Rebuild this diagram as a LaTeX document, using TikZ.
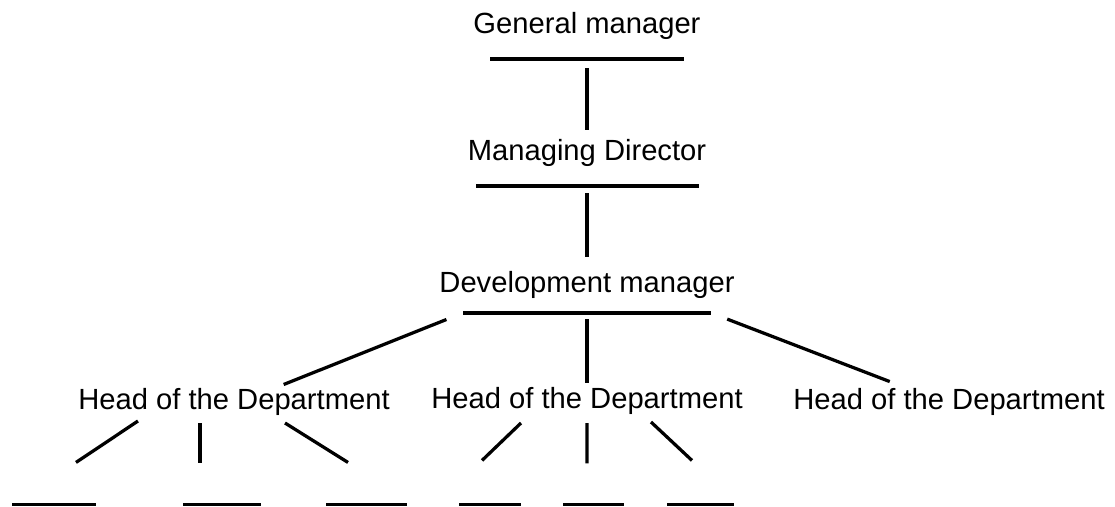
\documentclass[tikz,border=0pt]{standalone}
\usepackage{fontspec}
\setmainfont{Liberation Sans}
\usepackage{tikz}

\tikzset{
  title/.style={font=\fontsize{16.6}{19}\selectfont, inner sep=0pt, anchor=base},
  bar/.style={fill=black, draw=none, inner sep=0pt, minimum height=0.064cm},
  link/.style={line width=1.85pt}
}

\begin{document}
\begin{tikzpicture}
		%%%%% START %%%%%
		\useasboundingbox (0, 0) rectangle (22.3, 10.12);
		
		% management chain
		\node[title] (gm) at (11.74, 9.46) {General manager};
		\node[bar, minimum width=3.88cm] (gmb) at (11.74, 8.94) {};
		\node[title] (md) at (11.74, 6.92) {Managing Director};
		\node[bar, minimum width=4.46cm] (mdb) at (11.74, 6.40) {};
		\node[title] (dm) at (11.74, 4.28) {Development manager};
		\node[bar, minimum width=4.96cm] (dmb) at (11.74, 3.86) {};
		
		% heads of department
		\node[title] (lh) at (4.68, 1.94) {Head of the Department};
		\node[title] (mh) at (11.74, 1.95) {Head of the Department};
		\node[title] (rh) at (18.98, 1.94) {Head of the Department};
		
		% empty places at the bottom
		\node[bar, minimum width=1.68cm] (l1) at (1.08, 0.036) {};
		\node[bar, minimum width=1.56cm] (l2) at (4.44, 0.036) {};
		\node[bar, minimum width=1.62cm] (l3) at (7.33, 0.036) {};
		\node[bar, minimum width=1.24cm] (l4) at (9.80, 0.036) {};
		\node[bar, minimum width=1.22cm] (l5) at (11.87, 0.036) {};
		\node[bar, minimum width=1.34cm] (l6) at (14.01, 0.036) {};
		
		\draw[link, shorten <=0.15cm, shorten >=0.6cm] (gmb.south) -- (md.base);
		\draw[link, shorten <=0.11cm, shorten >=0.7cm] (mdb.south) -- (dm.base);
		
		\draw[link, shorten <=0.35cm, shorten >=1.07cm] (dmb.west) -- (lh.mid);
		\draw[link, shorten <=0.09cm, shorten >=0.51cm] (dmb.south) -- (mh.base);
		\draw[link, shorten <=0.34cm, shorten >=1.27cm] (dmb.east) -- (rh.mid);
		
		\draw[link] ([shift={(-1.92,-0.24)}]lh.base) -- ([shift={(0.44,0.796)}]l1.north);
		\draw[link] ([shift={(-0.68,-0.28)}]lh.base) -- ([shift={(-0.44,0.79)}]l2.north);
		\draw[link] ([shift={(1.02,-0.28)}]lh.base) -- ([shift={(-0.37,0.796)}]l3.north);
		
		\draw[link] ([shift={(-1.32,-0.29)}]mh.base) -- ([shift={(-0.16,0.836)}]l4.north);
		\draw[link] ([shift={(0,-0.29)}]mh.base) -- ([shift={(-0.13,0.776)}]l5.north);
		\draw[link] ([shift={(1.28,-0.27)}]mh.base) -- ([shift={(-0.17,0.836)}]l6.north);
		
		%%%%% END %%%%%
	\end{tikzpicture}
\end{document}
